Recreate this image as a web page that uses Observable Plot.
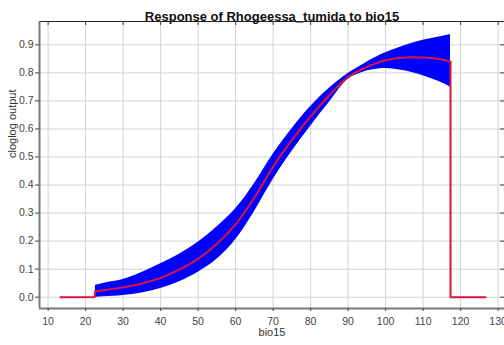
<!DOCTYPE html>
<html><head><meta charset="utf-8">
<script src="https://cdn.jsdelivr.net/npm/d3@7"></script>
<script src="https://cdn.jsdelivr.net/npm/@observablehq/plot@0.6"></script>
<style>
body{margin:0;background:#fff;}
</style></head><body><div id="chart"></div>
<script>
const titleText = "Response of Rhogeessa_tumida to bio15";
const xLabel = "bio15";
const yLabel = "cloglog output";
const xTicks = [10, 20, 30, 40, 50, 60, 70, 80, 90, 100, 110, 120, 130];
const yTicks = [0, 0.1, 0.2, 0.3, 0.4, 0.5, 0.6, 0.7, 0.8, 0.9];
const xDomain = [7.7, 131.7];
const yDomain = [-0.0403, 0.9832];

// band (mean ± sd) sampled along bio15
const bandX     = [22.6, 25, 30, 35, 40, 45, 50, 55, 60, 65, 70, 75, 80, 85, 90, 94, 97, 100, 105, 110, 115, 117.3];
const meanVals  = [0.021, 0.025, 0.035, 0.049, 0.069, 0.098, 0.137, 0.19, 0.26, 0.355, 0.465, 0.56, 0.645, 0.72, 0.785, 0.815, 0.832, 0.845, 0.855, 0.855, 0.848, 0.84];
const upperVals = [0.042, 0.050, 0.063, 0.088, 0.119, 0.153, 0.196, 0.25, 0.315, 0.405, 0.51, 0.60, 0.68, 0.745, 0.798, 0.83, 0.853, 0.872, 0.897, 0.916, 0.93, 0.937];
const lowerVals = [0.000, 0.002, 0.006, 0.015, 0.031, 0.055, 0.089, 0.135, 0.205, 0.305, 0.42, 0.52, 0.61, 0.695, 0.777, 0.802, 0.812, 0.816, 0.808, 0.79, 0.765, 0.749];

// flat zero segments outside the data range
const leadX = [13.3, 22.4];
const leadY = [0, 0];
const tailX = [117.3, 126.6];
const tailY = [0, 0];

const band = bandX.map((x, i) => ({x, lo: lowerVals[i], hi: upperVals[i]}));
const meanMid = bandX.map((x, i) => ({x, y: meanVals[i]}));
const leadLine = [...leadX.map((x, i) => ({x, y: leadY[i]})), meanMid[0]];
const tailLine = [meanMid[meanMid.length - 1], ...tailX.map((x, i) => ({x, y: tailY[i]}))];

const red = "#dc143c";
const plot = Plot.plot({
  width: 504, height: 345,
  marginLeft: 39, marginRight: 0, marginTop: 21, marginBottom: 37,
  style: {fontFamily: "'Liberation Sans', Arial, sans-serif", background: "#fff", color: "#222"},
  x: {domain: xDomain},
  y: {domain: yDomain},
  marks: [
    Plot.gridX(xTicks, {stroke: "#d2d2d2", strokeOpacity: 1}),
    Plot.gridY(yTicks, {stroke: "#d2d2d2", strokeOpacity: 1}),
    Plot.areaY(band, {x: "x", y1: "lo", y2: "hi", fill: "#0000ff", curve: "catmull-rom"}),
    Plot.line(leadLine, {x: "x", y: "y", stroke: red, strokeWidth: 2}),
    Plot.line(meanMid, {x: "x", y: "y", stroke: red, strokeWidth: 2, curve: "catmull-rom"}),
    Plot.line(tailLine, {x: "x", y: "y", stroke: red, strokeWidth: 2}),
    Plot.ruleY([yDomain[1]], {stroke: "#222"}),
    Plot.ruleX([xDomain[0]], {stroke: "#7a7a7a", strokeWidth: 2}),
    Plot.ruleY([yDomain[0]], {stroke: "#7a7a7a", strokeWidth: 2}),
    Plot.axisY(yTicks, {tickSize: 4, tickPadding: 2, tickFormat: d3.format(".1f"), label: null, fontSize: 10.5, color: "#444"}),
    Plot.axisX(xTicks, {tickSize: 3, tickPadding: 6, label: null, fontSize: 10.5, color: "#444"}),
    Plot.tickX(xTicks, {x: d => d, insetBottom: 283, stroke: "#444"}),
    Plot.tickY(yTicks, {y: d => d, insetLeft: 461, stroke: "#444"}),
    Plot.text([titleText], {text: d => d, frameAnchor: "top", dy: -10, fontWeight: "bold", fontSize: 13, fill: "#111"}),
    Plot.text([xLabel], {text: d => d, frameAnchor: "bottom", dy: 27, fontSize: 11, fill: "#333"}),
    Plot.text([yLabel], {text: d => d, frameAnchor: "left", rotate: -90, dx: -27, dy: -7, fontSize: 11, fill: "#333"})
  ]
});
document.getElementById("chart").appendChild(plot);
</script>
</body></html>
